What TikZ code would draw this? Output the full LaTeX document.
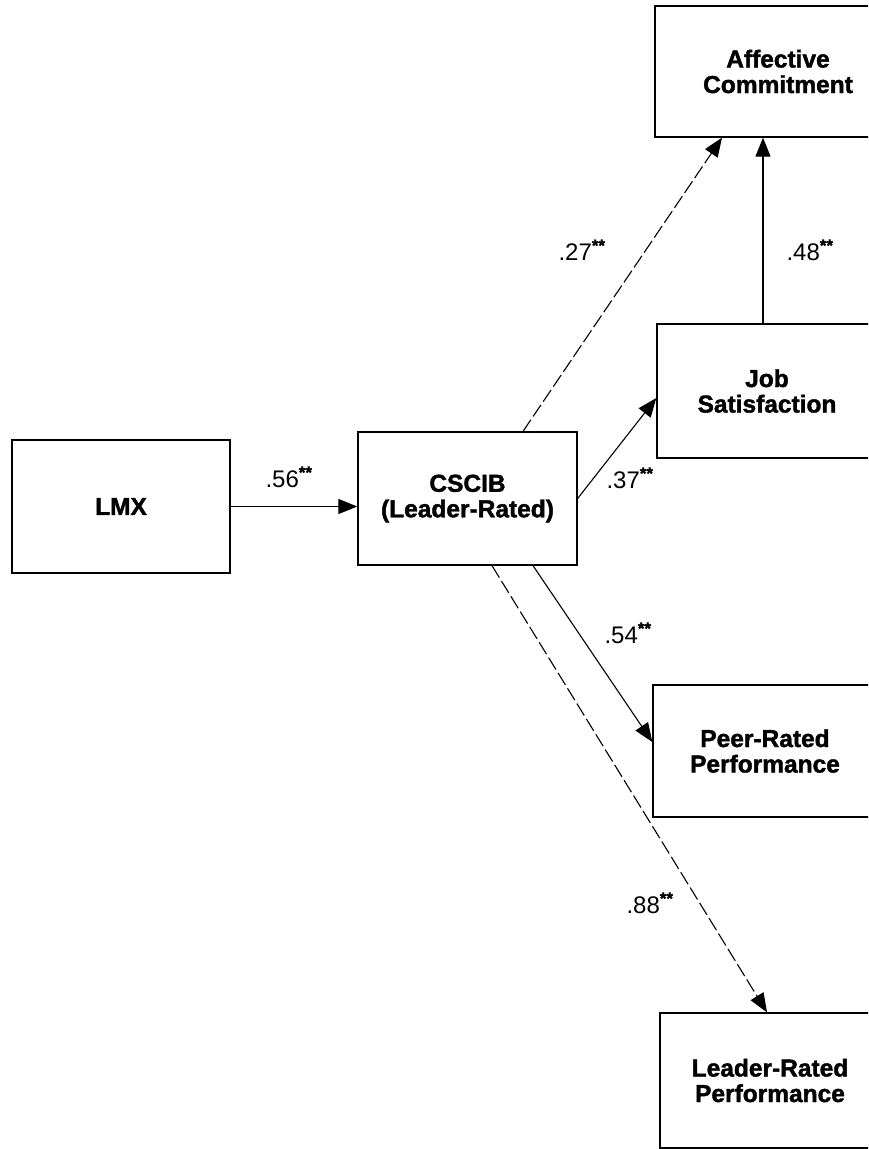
\documentclass[tikz,border=0pt]{standalone}
\usepackage{fontspec}
\setmainfont{Liberation Sans}[BoldFeatures={FakeBold=1.6}]
\usetikzlibrary{arrows.meta}
\begin{document}
\begin{tikzpicture}[x=1pt,y=-1pt,
  box/.style={draw,line width=1.3pt,rectangle,inner sep=0pt,align=center,
    font=\fontsize{24.5}{25.5}\selectfont\bfseries},
  path/.style={line width=1.1pt,-{Triangle[length=19pt,width=15pt]}},
  dpath/.style={path,dash pattern=on 14pt off 4pt},
  coef/.style={font=\fontsize{24}{25}\selectfont,inner sep=0pt}]
\useasboundingbox (0,0) rectangle (868,1149);
\clip (0,0) rectangle (868,1149);
\node[box,minimum width=218pt,minimum height=133pt] (lmx) at (121,506.5) {LMX};
\node[box,minimum width=219pt,minimum height=133pt] (cscib) at (467.5,498.5) {CSCIB\\(Leader-Rated)};
\node[box,minimum width=246pt,minimum height=131pt] (ac) at (778,71.5) {Affective\\Commitment};
\node[box,minimum width=220pt,minimum height=134pt] (js) at (767,391) {Job\\Satisfaction};
\node[box,minimum width=224pt,minimum height=132pt] (peer) at (765,751) {Peer-Rated\\Performance};
\node[box,minimum width=220pt,minimum height=135pt] (lead) at (770,1080.5) {Leader-Rated\\Performance};

\draw[path] (lmx.east) -- (lmx.east -| cscib.west);
\draw[dpath] ([xshift=55.5pt]cscib.north) -- ([xshift=-56pt]ac.south);
\draw[path] ([xshift=-4pt]js.north) -- ([xshift=-15pt]ac.south);
\draw[path] (cscib.east) -- ([yshift=-7pt]js.west);
\draw[path] ([xshift=65.5pt]cscib.south) -- ([yshift=9pt]peer.west);
\draw[dpath] ([xshift=24.5pt]cscib.south) -- ([xshift=-3pt]lead.north);

\node[coef] (l56) at (289,477) {.56\textsuperscript{\bfseries**}};
\node[coef] (l27) at (582,250) {.27\textsuperscript{\bfseries**}};
\node[coef] (l48) at (810,250) {.48\textsuperscript{\bfseries**}};
\node[coef] (l37) at (630,478) {.37\textsuperscript{\bfseries**}};
\node[coef] (l54) at (628,633) {.54\textsuperscript{\bfseries**}};
\node[coef] (l88) at (650,903) {.88\textsuperscript{\bfseries**}};
\end{tikzpicture}
\end{document}
